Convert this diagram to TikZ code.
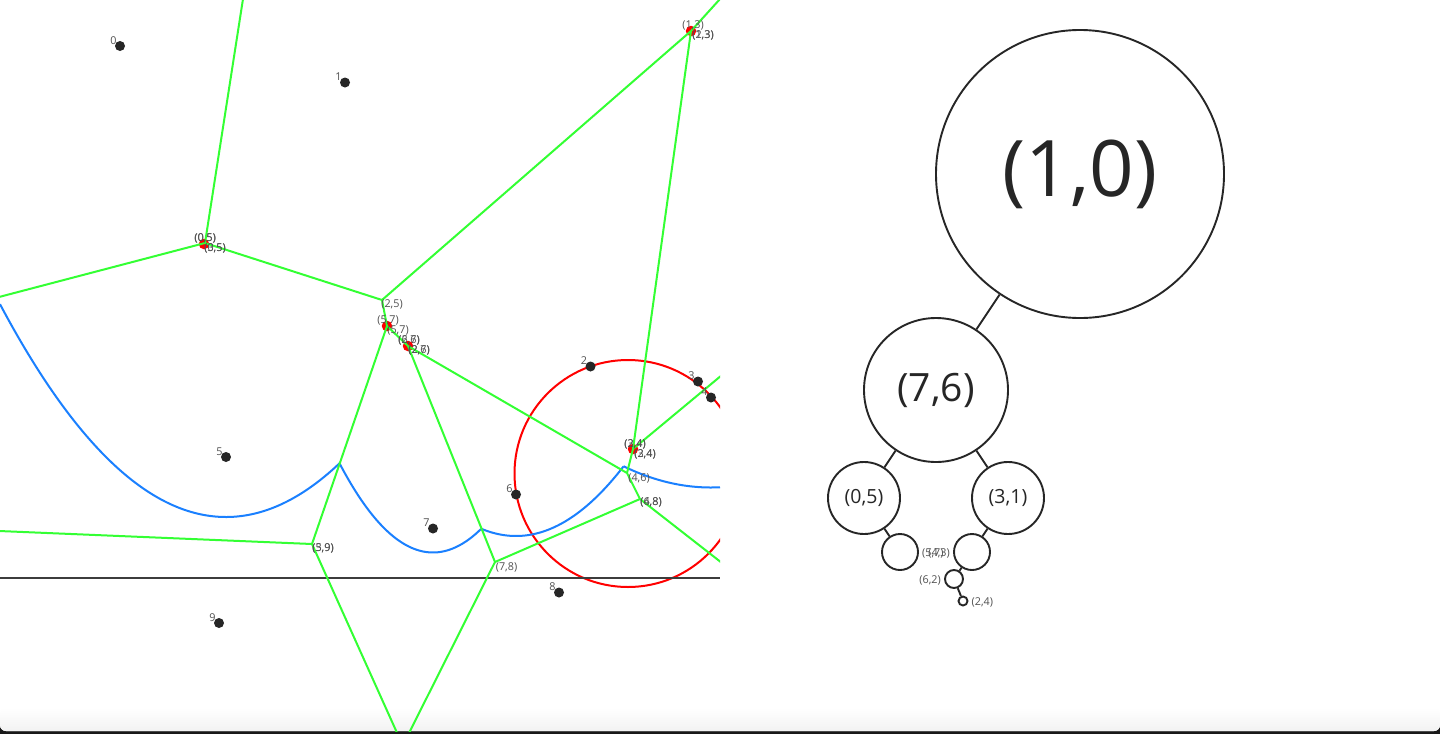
\documentclass[tikz,border=0pt]{standalone}
\usepackage{fontspec}
\setmainfont{Open Sans}
\definecolor{ink}{HTML}{262626}
\definecolor{vgreen}{HTML}{33FF33}
\definecolor{vblue}{HTML}{1A80FF}
\begin{document}
\begin{tikzpicture}[x=1pt,y=-1pt,
  edgeline/.style={vgreen,line width=2pt},
  arc/.style={vblue,line width=2pt},
  site/.style={circle,fill=ink,minimum size=10pt,inner sep=0pt},
  vert/.style={circle,fill=red,minimum size=10.5pt,inner sep=0pt},
  lbl/.style={font=\fontsize{10.8}{11}\selectfont,text=ink!80,inner sep=0pt},
  tnode/.style={circle,draw=ink,line width=1.9pt,fill=white,inner sep=0pt,text=ink},
  tedge/.style={draw=ink,line width=1.9pt}]
\useasboundingbox (0,0) rectangle (1440,734);
\fill[black!90] (0,715) rectangle (1440,734);
\fill[white,rounded corners=6pt] (0,600) rectangle (1440,731);
\fill[white] (0,0) rectangle (1440,660);
\shade[top color=white,bottom color=black!5,rounded corners=6pt] (0,708) rectangle (1440,731);
\begin{scope}
\clip (0,0) rectangle (720,731);
% free ends
\coordinate (t1) at (243,-1);
\coordinate (l1) at (-1,297);
\coordinate (l2) at (-1,531);
\coordinate (b1) at (398,735);
\coordinate (b2) at (408,735);
\coordinate (tr) at (720,-1);
\coordinate (r1) at (722,375);
\coordinate (r2) at (722,563);
\coordinate (v05) at (205,243);
\coordinate (v25) at (382,300);
\coordinate (v57) at (387,326);
\coordinate (v26) at (408,346);
\coordinate (v13) at (691,31);
\coordinate (v34) at (633,449);
\coordinate (v46) at (627,473);
\coordinate (v48) at (640,499);
\coordinate (v78) at (495,562);
\coordinate (v59) at (312,544);
\coordinate (lineL) at (0,577.5);
\coordinate (lineR) at (720,577.5);
\node[vert] (r05) at (204,244) {};
\node[vert] (r57) at (387,326) {};
\node[vert] (r26) at (408,346) {};
\node[vert] (r13) at (691,31) {};
\node[vert] (r34) at (633,449) {};
\draw[red,line width=2pt] (628,473.5) circle[radius=113.5];
\draw[ink!90,line width=2pt] (lineL) -- (lineR);
\draw[arc,domain=0:340,samples=70,smooth] plot (\x,{517-(\x-226)/240*(\x-226)});
\draw[arc,domain=340:481,samples=40,smooth] plot (\x,{552.5-(\x-433)/98*(\x-433)});
\draw[arc,domain=481:623.5,samples=40,smooth] plot (\x,{536-(\x-516)/166*(\x-516)});
\draw[arc,domain=623.5:720,samples=30,smooth] plot (\x,{487.5-(\x-711)/360*(\x-711)});
\foreach \a/\b in {t1/v05,l1/v05,v05/v25,v25/v13,v13/tr,v13/v34,v34/r1,v34/v46,v46/v48,v46/v26,v48/v78,v48/r2,v25/v57,v57/v59,v57/v26,v26/v78,v59/l2,v59/b1,v78/b2}
  \draw[edgeline] (\a) -- (\b);
\foreach \n/\x/\y in {0/120/46,1/345/82.5,2/590.5/366.5,3/698/381.5,4/711/397.5,5/226/457,6/516/494.5,7/433/528.5,8/559/592.5,9/219/623}{
  \node[site] (s\n) at (\x,\y) {};
  \node[lbl] (ls\n) at (\x-6.5,\y-5.5) {\n};
}
\node[lbl] (a1) at (205,238) {(0,5)};
\node[lbl] (a2) at (205.3,238) {(0,5)};
\node[lbl] (a3) at (215,248) {(0,5)};
\node[lbl] (a4) at (215,248) {(3,5)};
\node[lbl] (a5) at (392,304) {(2,5)};
\node[lbl] (a6) at (388,320) {(5,7)};
\node[lbl] (a7) at (398,330) {(5,7)};
\node[lbl] (a8) at (409,340) {(2,6)};
\node[lbl] (a9) at (409,340) {(6,7)};
\node[lbl] (a10) at (419,350) {(2,6)};
\node[lbl] (a11) at (419,350) {(2,7)};
\node[lbl] (a12) at (693,25) {(1,3)};
\node[lbl] (a13) at (703,35) {(1,3)};
\node[lbl] (a14) at (703,35) {(2,3)};
\node[lbl] (a15) at (635,444) {(3,4)};
\node[lbl] (a16) at (635,444) {(2,4)};
\node[lbl] (a17) at (645,454) {(3,4)};
\node[lbl] (a18) at (645,454) {(2,4)};
\node[lbl] (a19) at (639,478) {(4,6)};
\node[lbl] (a20) at (651,502) {(4,8)};
\node[lbl] (a21) at (651,502) {(6,8)};
\node[lbl] (a22) at (506.5,567) {(7,8)};
\node[lbl] (a23) at (323,548) {(5,9)};
\node[lbl] (a24) at (323,548) {(3,9)};
\end{scope}
% tree
\node[tnode,minimum size=288pt,font=\fontsize{78}{78}\selectfont] (n10) at (1080,174) {\raisebox{-4pt}{(1,0)}};
\node[tnode,minimum size=144pt,font=\fontsize{39}{39}\selectfont] (n76) at (936,390) {\raisebox{-1.5pt}{(7,6)}};
\node[tnode,minimum size=72pt,font=\fontsize{19.5}{20}\selectfont] (n05) at (864,498) {(0,5)};
\node[tnode,minimum size=72pt,font=\fontsize{19.5}{20}\selectfont] (n31) at (1008,498) {(3,1)};
\node[tnode,minimum size=36pt] (n57) at (900,552) {};
\node[tnode,minimum size=36pt] (n43) at (972,552) {};
\node[tnode,minimum size=18pt] (n62) at (954,579) {};
\node[tnode,minimum size=9pt] (n24) at (963,601) {};
\foreach \a/\b in {n10/n76,n76/n05,n76/n31,n05/n57,n31/n43,n43/n62,n62/n24}
  \draw[tedge] (\a) -- (\b);
\node[lbl,anchor=west] (t57) at (922,553) {(5,7)};
\node[lbl,anchor=east] (t43) at (950,553) {(4,3)};
\node[lbl,anchor=east] (t62) at (941,580) {(6,2)};
\node[lbl,anchor=west] (t24) at (971.5,602) {(2,4)};
\end{tikzpicture}
\end{document}
